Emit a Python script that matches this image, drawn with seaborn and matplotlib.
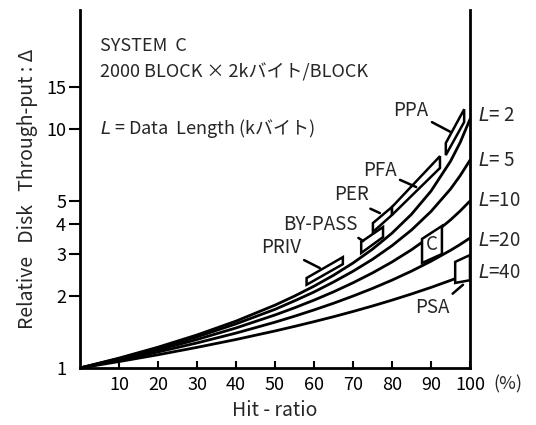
import matplotlib
matplotlib.use("Agg")
import matplotlib.pyplot as plt
import matplotlib.transforms as mtransforms
import seaborn as sns
import pandas as pd

# ---- data ----
hit = [0, 10, 20, 30, 40, 50, 55, 60, 65, 70, 75, 80, 85, 90, 95, 97.5, 100]
thr_L2 = [1.0, 1.10, 1.222, 1.375, 1.571, 1.833, 2.0, 2.2, 2.444, 2.75, 3.143, 3.667, 4.40, 5.50, 7.33, 8.80, 11.0]
thr_L5 = [1.0, 1.095, 1.21, 1.35, 1.53, 1.76, 1.91, 2.08, 2.29, 2.54, 2.85, 3.25, 3.78, 4.52, 5.61, 6.39, 7.41]
thr_L10 = [1.0, 1.087, 1.19, 1.316, 1.471, 1.667, 1.786, 1.923, 2.083, 2.273, 2.5, 2.778, 3.125, 3.571, 4.167, 4.545, 5.0]
thr_L20 = [1.0, 1.077, 1.167, 1.273, 1.40, 1.555, 1.647, 1.75, 1.866, 2.0, 2.153, 2.332, 2.544, 2.798, 3.108, 3.29, 3.5]
thr_L40 = [1.0, 1.064, 1.136, 1.22, 1.316, 1.429, 1.493, 1.563, 1.639, 1.724, 1.818, 1.923, 2.041, 2.174, 2.326, 2.41, 2.5]
series_names = ["L= 2", "L= 5", "L=10", "L=20", "L=40"]

# system boxes: x_left, x_right, lower_left, lower_right, upper_left, upper_right
box_names = ["PRIV", "BY-PASS", "PER", "PFA", "PPA", "C", "PSA"]
box_x0 = [58.1, 72.1, 75.1, 80.0, 93.8, 87.7, 96.2]
box_x1 = [67.4, 77.7, 80.0, 92.3, 98.5, 92.8, 100.0]
box_lo0 = [2.23, 3.03, 3.71, 4.37, 7.78, 2.75, 2.27]
box_lo1 = [2.72, 3.53, 4.37, 6.87, 10.7, 3.00, 2.33]
box_hi0 = [2.38, 3.37, 4.04, 4.72, 8.74, 3.47, 2.78]
box_hi1 = [2.91, 3.89, 4.72, 7.70, 12.1, 3.93, 2.97]

# label positions (text) and pointer targets
lab_x = [51.5, 61.5, 69.5, 76.9, 84.9, 90.3]
lab_y = [3.18, 4.0, 5.3, 6.74, 12.0, 1.80]
ptr_x = [61.5, 72.6, 76.9, 86.2, 95.1, 98.2]
ptr_y = [2.62, 3.40, 4.45, 5.72, 9.71, 2.23]
lab_names = ["PRIV", "BY-PASS", "PER", "PFA", "PPA", "PSA"]

xticks = [10, 20, 30, 40, 50, 60, 70, 80, 90, 100]
yticks = [1, 2, 3, 4, 5, 10, 15]

# ---- build long table ----
rows = []
for name, vals in zip(series_names, [thr_L2, thr_L5, thr_L10, thr_L20, thr_L40]):
    for h, v in zip(hit, vals):
        rows.append({"hit": h, "thr": v, "L": name})
df = pd.DataFrame(rows)

sns.set_theme(style="ticks")
plt.rcParams["font.family"] = ["Noto Sans CJK JP", "DejaVu Sans"]

fig = plt.figure(figsize=(5.36, 4.25), dpi=100)
ax = fig.add_axes([80 / 536, 1 - 368 / 425, 390 / 536, 358 / 425])

sns.lineplot(data=df, x="hit", y="thr", hue="L", palette=["black"] * 5,
             linewidth=2.0, legend=False, ax=ax, sort=False)

ax.set_yscale("log")
ax.set_xlim(0, 100)
ax.set_ylim(1, 31.5)

# boxes
for i in range(len(box_names)):
    xs = [box_x0[i], box_x1[i], box_x1[i], box_x0[i], box_x0[i]]
    ys = [box_lo0[i], box_lo1[i], box_hi1[i], box_hi0[i], box_lo0[i]]
    ax.fill(xs, ys, facecolor="white", edgecolor="black", linewidth=1.8, zorder=3)

ax.text(90.3, 3.30, "C", ha="center", va="center", fontsize=13.5, zorder=4)

# pointer labels
relpos = [(1, 0), (0.95, 0), (0.85, 0), (1, 0.1), (0.9, 0.1), (1, 1)]
for i, name in enumerate(lab_names):
    ax.annotate(name, xy=(ptr_x[i], ptr_y[i]), xytext=(lab_x[i], lab_y[i]),
                ha="center", va="center", fontsize=13.5,
                arrowprops=dict(arrowstyle="-", color="black", lw=1.8,
                                relpos=relpos[i], shrinkA=0, shrinkB=0))

# right-side series labels
trans = mtransforms.blended_transform_factory(ax.transAxes, ax.transData)
ends = [thr_L2[-1] * 1.04, thr_L5[-1], thr_L10[-1], thr_L20[-1] * 0.98, thr_L40[-1]]
for name, yv in zip(series_names, ends):
    ax.text(1.02, yv, "$L$" + name[1:], transform=trans, ha="left", va="center",
            fontsize=13.5, clip_on=False)

# header texts
ax.text(0.051, 0.899, "SYSTEM  C", transform=ax.transAxes, fontsize=13,
        ha="left", va="center")
ax.text(0.051, 0.827, "2000 BLOCK × 2kバイト/BLOCK", transform=ax.transAxes,
        fontsize=13, ha="left", va="center")
ax.text(0.051, 0.668, "$L$ = Data  Length (kバイト)", transform=ax.transAxes,
        fontsize=13, ha="left", va="center")

# axes styling
ax.set_xticks(xticks)
ax.set_xticklabels([str(t) for t in xticks], fontsize=13)
ax.text(1.06, -0.045, "(%)", transform=ax.transAxes, fontsize=13,
        ha="left", va="center")
ax.set_yticks(yticks)
ax.set_yticklabels([str(t) for t in yticks], fontsize=13)
ax.yaxis.set_minor_locator(matplotlib.ticker.NullLocator())
ax.tick_params(axis="x", direction="in", length=5, width=1.5, pad=6, colors="black")
ax.tick_params(axis="y", direction="out", length=8, width=1.5, pad=2, colors="black")
ax.yaxis.get_major_ticks()[0].tick1line.set_visible(False)

for side in ["left", "bottom", "right"]:
    ax.spines[side].set_visible(True)
    ax.spines[side].set_linewidth(2)
    ax.spines[side].set_color("black")
ax.spines["top"].set_visible(False)

ax.set_xlabel("Hit - ratio", fontsize=14, labelpad=4)
ax.set_ylabel("Relative   Disk   Through-put : Δ", fontsize=14, labelpad=6)
ax.set_facecolor("white")

fig.savefig("out.png", dpi=100, facecolor="white")
